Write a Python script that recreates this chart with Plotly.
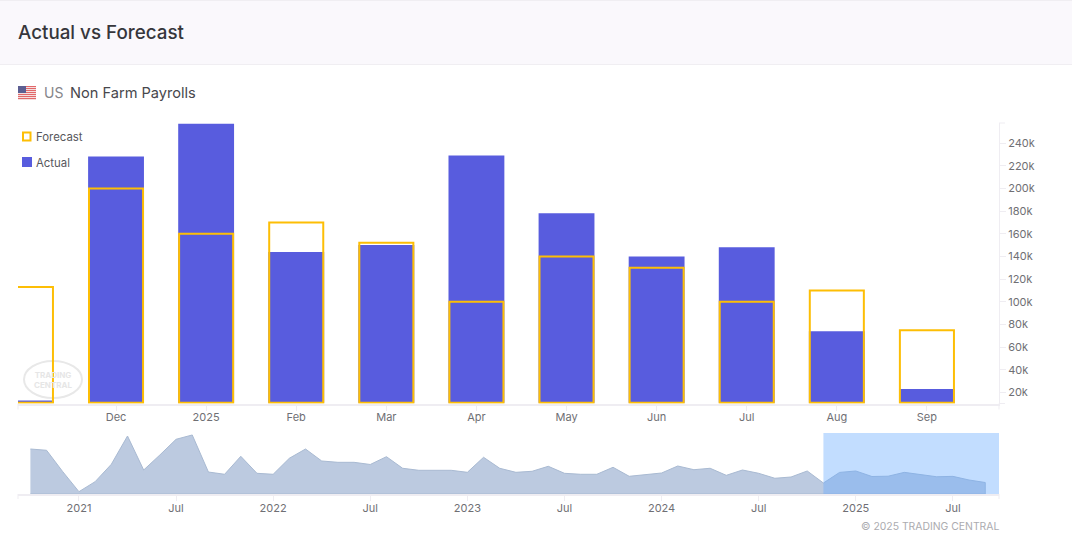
import plotly.graph_objects as go
import pandas as pd

# ---------- data ----------
months = ["Nov", "Dec", "2025", "Feb", "Mar", "Apr", "May", "Jun", "Jul", "Aug", "Sep"]
actual = [13, 228, 257, 144, 150, 229, 178, 140, 148, 74, 23]
forecast = [113, 200, 160, 170, 152, 100, 140, 130, 100, 110, 75]
y_ticks = [20, 40, 60, 80, 100, 120, 140, 160, 180, 200, 220, 240]
y_labels = [f"{v}k" for v in y_ticks]

nav_months = [d.strftime("%Y-%m") for d in pd.date_range("2020-10-01", periods=60, freq="MS")]
nav_values = [702, 676, 242, -164, 39, 392, 966, 276, 581, 899, 987, 235, 189, 554, 209, 189,
              514, 702, 459, 432, 432, 388, 546, 311, 270, 270, 270, 229, 534, 311, 229, 250,
              351, 209, 189, 189, 331, 148, 189, 215, 357, 282, 311, 168, 276, 209, 108, 134,
              256, 12, 227, 256, 144, 150, 228, 177, 139, 147, 73, 22]
nav_tickvals = ["2021-01", "2021-07", "2022-01", "2022-07", "2023-01", "2023-07", "2024-01", "2024-07", "2025-01", "2025-07"]
nav_ticktext = ["2021", "Jul", "2022", "Jul", "2023", "Jul", "2024", "Jul", "2025", "Jul"]

# ---------- style ----------
W, H = 1072, 557
L, R, T, B = 18, 999, 123, 494
MAIN_BOTTOM, NAV_TOP = 403.5, 433
FONT = "Inter, 'Open Sans', sans-serif"
BLUE, GOLD, AXIS, TICK = "#585cde", "#fdbe05", "#efedf2", "#6f6f74"
BAR_BASE = 11
Y_RANGE = [10.3, 257.65]
NAV_FLOOR = -211
NAV_CEIL = 1027


def px(x):
    return (x - L) / (R - L)


def py(y):
    return (B - y) / (B - T)


def rect(x0, y0, x1, y1, fill="rgba(0,0,0,0)", line=None, width=0, layer="below"):
    return dict(type="rect", xref="paper", yref="paper", x0=px(x0), x1=px(x1), y0=py(y0), y1=py(y1),
                fillcolor=fill, line=dict(color=line or "rgba(0,0,0,0)", width=width), layer=layer)


def seg(x0, y0, x1, y1, color=AXIS, width=1):
    return dict(type="line", xref="paper", yref="paper", x0=px(x0), x1=px(x1), y0=py(y0), y1=py(y1),
                line=dict(color=color, width=width), layer="below")


def label(x, y, text, size=11, color=TICK, anchor="left", weight=None):
    shift = {"left": -2, "right": 2, "center": 0}[anchor]
    return dict(xref="paper", yref="paper", x=px(x), y=py(y), text=text, showarrow=False,
                xanchor=anchor, yanchor="middle", xshift=shift,
                font=dict(family=FONT, size=size, color=color, weight=weight))


fig = go.Figure()
fig.add_bar(x=months, y=[v - BAR_BASE for v in actual], base=BAR_BASE, name="Actual", width=0.62,
            marker=dict(color=BLUE, line=dict(width=0)), xaxis="x", yaxis="y",
            customdata=actual, hovertemplate="Actual %{customdata}k<extra></extra>")
fig.add_bar(x=months, y=[v - BAR_BASE for v in forecast], base=BAR_BASE, name="Forecast", width=0.6,
            marker=dict(color="rgba(0,0,0,0)", line=dict(color=GOLD, width=2)), xaxis="x", yaxis="y",
            customdata=forecast, hovertemplate="Forecast %{customdata}k<extra></extra>")
fig.add_scatter(x=nav_months + nav_months[::-1], y=nav_values + [NAV_FLOOR] * len(nav_values),
                fill="toself", fillcolor="#bccae0", mode="lines", line=dict(color="#a9bad2", width=1),
                xaxis="x2", yaxis="y2", hoverinfo="skip")

shapes = [
    rect(0, 0, W, 64.5, fill="#faf8fc"),
    seg(0, 0.5, W, 0.5, "#f0eef2", 1),
    seg(0, 64.5, W, 64.5, "#f0eef2", 1),
    # axis end ticks
    seg(R, T, R + 6, T),
    seg(R, MAIN_BOTTOM, R, MAIN_BOTTOM + 6),
    seg(R, MAIN_BOTTOM, R + 6, MAIN_BOTTOM),
    seg(L, MAIN_BOTTOM, L, MAIN_BOTTOM + 6),
    seg(L, B, L, B + 5),
    seg(R, B, R, B + 5),
    # legend swatches
    rect(23, 132.5, 30.5, 140.5, line=GOLD, width=2, layer="above"),
    rect(22, 157, 32, 167, fill=BLUE, layer="above"),
    # selection of the navigator
    dict(type="rect", xref="x2", yref="y2 domain", x0=49, x1=59.85, y0=0, y1=1,
         fillcolor="rgba(102,170,255,0.4)", line=dict(width=0), layer="above"),
    # watermark
    dict(type="circle", xref="paper", yref="paper", x0=px(24), x1=px(82), y0=py(398), y1=py(361),
         line=dict(color="#e8e8e8", width=2), fillcolor="rgba(0,0,0,0)", layer="below"),
]
# flag
for i in range(7):
    shapes.append(rect(18, 86 + i * 2, 36, 87 + i * 2, fill="#e2686a", layer="above"))
    shapes.append(rect(18, 87 + i * 2, 36, 88 + i * 2, fill="#f4dede", layer="above"))
shapes.append(rect(18, 86, 26, 93, fill="#5c5f92", layer="above"))

annotations = [
    label(18, 32.5, "Actual vs Forecast", size=18.8, color="#36363b", weight=500),
    label(44, 92.5, "US", size=14, color="#85858a"),
    label(69.5, 92.5, "Non Farm Payrolls", size=14.6, color="#47474c"),
    label(36, 137, "Forecast", size=11.4, color="#57575c"),
    label(36, 163, "Actual", size=11.4, color="#57575c"),
    label(999, 526, "© 2025 TRADING CENTRAL", size=10.4, color="#ababaf", anchor="right"),
    label(53, 379.5, "TRADING<br>CENTRAL", size=8, color="#e6e6e6", anchor="center", weight=700),
]

fig.update_layout(
    width=W, height=H, autosize=False, showlegend=False, barmode="overlay",
    paper_bgcolor="#ffffff", plot_bgcolor="rgba(0,0,0,0)",
    margin=dict(l=L, r=W - R, t=T, b=H - B, pad=0),
    font=dict(family=FONT, size=11, color=TICK),
    shapes=shapes, annotations=annotations,
    xaxis=dict(domain=[0, 1], anchor="y", type="category", categoryorder="array", categoryarray=months,
               range=[-0.088, 10.80], tickmode="array", tickvals=months[1:], ticktext=months[1:],
               showgrid=False, zeroline=False, showline=True, linecolor=AXIS, linewidth=2,
               ticks="outside", ticklen=5, tickcolor=AXIS, tickwidth=1, ticklabelstandoff=-3,
               tickfont=dict(family=FONT, size=11, color=TICK)),
    yaxis=dict(domain=[py(MAIN_BOTTOM), 1], anchor="x", side="right", range=Y_RANGE,
               tickmode="array", tickvals=y_ticks, ticktext=y_labels,
               showgrid=False, zeroline=False, showline=True, linecolor=AXIS, linewidth=1,
               ticks="outside", ticklen=6, tickcolor=AXIS, tickwidth=1,
               tickfont=dict(family=FONT, size=11, color=TICK)),
    xaxis2=dict(domain=[0, 1], anchor="y2", type="category", categoryorder="array", categoryarray=nav_months,
                range=[-0.766, 59.85], tickmode="array", tickvals=nav_tickvals, ticktext=nav_ticktext,
                showgrid=False, zeroline=False, showline=True, linecolor=AXIS, linewidth=2,
                ticks="outside", ticklen=5, tickcolor=AXIS, tickwidth=1, ticklabelstandoff=-2,
                tickfont=dict(family=FONT, size=11, color=TICK)),
    yaxis2=dict(domain=[0, py(NAV_TOP)], anchor="x2", range=[NAV_FLOOR, NAV_CEIL], visible=False),
)

fig.write_html("out.html", config=dict(displayModeBar=False),
               post_script="document.body.style.margin='0';")
